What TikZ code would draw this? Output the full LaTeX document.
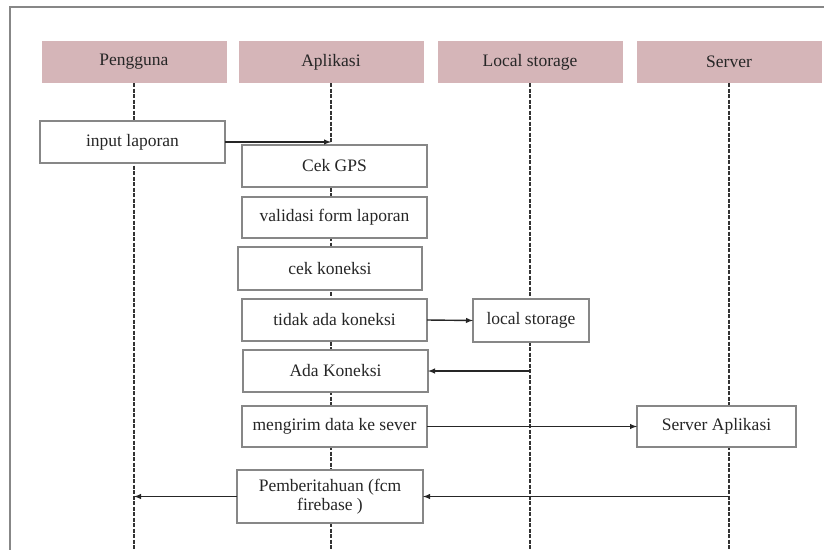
\documentclass[tikz,border=0pt]{standalone}
\usepackage{fontspec}
\setmainfont{Liberation Serif}
\usetikzlibrary{calc}

\definecolor{headpink}{RGB}{213,181,184}
\definecolor{boxgray}{RGB}{135,135,135}

\begin{document}
\begin{tikzpicture}[x=10pt,y=10pt,inner sep=0in,outer sep=0in,
	font=\fontsize{17.5}{19}\selectfont,
	head/.style={rectangle, fill=headpink, text=black!85, minimum width=185pt, minimum height=42pt},
	act/.style={rectangle, draw=boxgray, line width=1.3pt, fill=white, text=black!85, minimum width=185pt, minimum height=42pt, align=center},
	life/.style={black!80, line width=1.4pt, dash pattern=on 4pt off 1.5pt},
	msg/.style={black!85, line width=1.4pt, -latex}]
	\clip (0,0) rectangle (82.4,-54.9);
	\draw[boxgray, line width=2pt] (1,-0.7) rectangle (84,-57);
	
	\node[head] at (13.4,-6.2) (peng) {Pengguna};
	\node[head] at (33.1,-6.2) (apl) {Aplikasi};
	\node[head] at (53.0,-6.2) (loc) {Local storage};
	\node[head] at (72.9,-6.2) (srv) {Server};
	
	\coordinate (peng_end) at (13.4,-55);
	\coordinate (apl_end) at (33.1,-55);
	\coordinate (loc_end) at (53.0,-55);
	\coordinate (srv_end) at (72.9,-55);
	
	\draw[life] (peng.south)--(peng_end);
	\draw[life] (apl.south)--(apl_end);
	\draw[life] (loc.south)--(loc_end);
	\draw[life] (srv.south)--(srv_end);
	
	\node[act] at (13.25,-14.2) (input) {input laporan};
	\node[act] at (33.45,-16.6) (cekgps) {Cek GPS};
	\node[act, minimum height=41pt] at (33.45,-21.75) (validasi) {validasi form laporan};
	\node[act, minimum width=184pt, minimum height=43pt] at (33.0,-26.85) (cekkon) {cek koneksi};
	\node[act] at (33.45,-32.0) (tidak) {tidak ada koneksi};
	\node[act] at (33.55,-37.1) (ada) {Ada Koneksi};
	\node[act, minimum height=41pt] at (33.45,-42.65) (kirim) {mengirim data ke sever};
	\node[act, minimum width=186pt, minimum height=53pt] at (33.0,-49.65) (notif) {Pemberitahuan (fcm\\firebase )};
	
	\node[act, minimum width=116pt, minimum height=43pt] at (53.1,-32.05) (lokal) {local storage};
	\node[act, minimum width=159pt, minimum height=41pt] at (71.65,-42.65) (srvapp) {Server Aplikasi};
	
	\draw[msg] (input.east)--(input.east -| apl.south);
	\draw[msg] (tidak.east)--(lokal.west);
	\draw[msg] (ada.east -| loc.south)--(ada.east);
	\draw[msg] (kirim.east)--(srvapp.west);
	\draw[msg] (notif.east -| srv.south)--(notif.east);
	\draw[msg] (notif.west)--(notif.west -| peng.south);
\end{tikzpicture}
\end{document}
